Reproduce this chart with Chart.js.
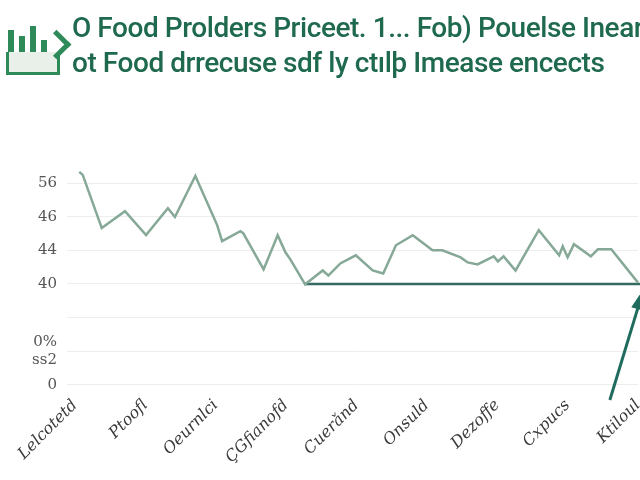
<!DOCTYPE html>
<html>
<head>
<meta charset="utf-8">
<script src="https://cdn.jsdelivr.net/npm/chart.js@4"></script>
<style>
  html, body { margin: 0; padding: 0; background: #fff; }
  #wrap { position: relative; width: 640px; height: 480px; overflow: hidden; }
  #head { position: absolute; left: 0; top: 8px; width: 640px; height: 76px; }
  #logo { position: absolute; left: 2px; top: 12px; width: 66px; height: 58px; }
  #logo .bar { position: absolute; bottom: 16px; width: 6px; background: #2f8a5a; }
  #logo .box { position: absolute; left: 4px; top: 32px; width: 48px; height: 20px; border: 3px solid #2f8a5a; border-top: none; background: #e9efe9; }
  #logo .chev { position: absolute; left: 44px; top: 14px; width: 16px; height: 16px; border-right: 5px solid #2f8a5a; border-bottom: 5px solid #2f8a5a; transform: rotate(-45deg); }
  #title { position: absolute; left: 72px; top: 2px; margin: 0; font-family: Roboto, sans-serif; font-weight: 500;
           font-size: 28px; line-height: 35px; color: #1f6a4e; letter-spacing: -0.45px; white-space: nowrap; }
  canvas { position: absolute; left: 0; top: 0; }
</style>
</head>
<body>
<div id="wrap">
  <canvas id="out" width="640" height="480"></canvas>
  <div id="head">
    <div id="logo">
      <div class="bar" style="left:6px;height:32px"></div>
      <div class="bar" style="left:17px;height:26px"></div>
      <div class="bar" style="left:28px;height:36px"></div>
      <div class="bar" style="left:39px;height:22px"></div>
      <div class="box"></div>
      <div class="chev"></div>
    </div>
    <h1 id="title">O Food Prolders Priceet. 1... Fob) Pouelse Inear<br>ot Food drrecuse sdf ly ctılþ Imease encects</h1>
  </div>
</div>
<script>
const xLabels = ["Lelcotetd", "Ptoofl", "Oeurnlci", "ÇGfianofd", "Cuerǎnd", "Onsuld", "Dezoffe", "Cxpucs", "Ktiloul"];
const yTickLabels = ["0", ["0%", "ss2"], "", "40", "44", "46", "56"];

const priceX = [0.06, 0.11, 0.38, 0.71, 1.01, 1.32, 1.42, 1.71, 2.02, 2.09, 2.35, 2.39, 2.68, 2.88, 2.99, 3.06,
  3.27, 3.52, 3.60, 3.77, 3.99, 4.23, 4.38, 4.56, 4.80, 5.08, 5.22, 5.48, 5.58, 5.72, 5.95, 6.01, 6.09,
  6.26, 6.59, 6.88, 6.93, 7.00, 7.09, 7.33, 7.43, 7.62, 8.00];
const priceY = [6.33, 6.24, 4.66, 5.16, 4.45, 5.25, 4.99, 6.21, 4.75, 4.27, 4.57, 4.51, 3.43, 4.45, 3.94, 3.73,
  2.99, 3.40, 3.25, 3.61, 3.85, 3.40, 3.31, 4.15, 4.45, 4.00, 4.00, 3.79, 3.64, 3.58, 3.82, 3.67, 3.82,
  3.40, 4.60, 3.85, 4.12, 3.79, 4.18, 3.82, 4.03, 4.03, 3.04];

const floorX = [3.27, 8.05];
const floorY = [3, 3];

const arrowX = [7.6, 8.08];
const arrowY = [-0.45, 2.85];

const toPoints = (xs, ys) => xs.map((x, i) => ({ x: x, y: ys[i] }));

// draws the pointer arrow from data coordinates
const arrowPlugin = {
  id: "arrow",
  afterDatasetsDraw(chart) {
    const { ctx, scales } = chart;
    const x0 = scales.x.getPixelForValue(arrowX[0]);
    const y0 = scales.y.getPixelForValue(arrowY[0]);
    const x1 = scales.x.getPixelForValue(arrowX[1]);
    const y1 = scales.y.getPixelForValue(arrowY[1]);
    const ang = Math.atan2(y1 - y0, x1 - x0);
    const head = 22;
    ctx.save();
    ctx.strokeStyle = "#1f6b5e";
    ctx.fillStyle = "#1f6b5e";
    ctx.lineWidth = 3;
    ctx.beginPath();
    ctx.moveTo(x0, y0);
    ctx.lineTo(x1 - Math.cos(ang) * head * 0.8, y1 - Math.sin(ang) * head * 0.8);
    ctx.stroke();
    ctx.beginPath();
    ctx.moveTo(x1, y1);
    ctx.lineTo(x1 - head * Math.cos(ang - 0.3), y1 - head * Math.sin(ang - 0.3));
    ctx.lineTo(x1 - head * Math.cos(ang + 0.3), y1 - head * Math.sin(ang + 0.3));
    ctx.closePath();
    ctx.fill();
    ctx.restore();
  }
};

new Chart(document.getElementById("out").getContext("2d"), {
  type: "line",
  data: {
    datasets: [
      {
        data: toPoints(priceX, priceY),
        borderColor: "#86a897",
        borderWidth: 2.5,
        pointRadius: 0,
        tension: 0,
        clip: false
      },
      {
        data: toPoints(floorX, floorY),
        borderColor: "#356a63",
        borderWidth: 2.5,
        pointRadius: 0,
        clip: false
      }
    ]
  },
  options: {
    responsive: false,
    animation: false,
    layout: { padding: { top: 183, left: 30, right: 2, bottom: 10 } },
    plugins: { legend: { display: false }, tooltip: { enabled: false } },
    scales: {
      x: {
        type: "linear",
        min: 0,
        max: 8,
        afterFit: (s) => { s.paddingRight = 0; },
        grid: { display: false },
        border: { display: false },
        ticks: {
          stepSize: 1,
          autoSkip: false,
          minRotation: 45,
          maxRotation: 45,
          color: "#3a3a3a",
          font: { family: "DejaVu Serif", size: 16, style: "italic" },
          callback: (v) => xLabels[v]
        }
      },
      y: {
        min: 0,
        max: 6,
        afterFit: (s) => { s.width = 45; },
        grid: { color: "#ededed" },
        border: { display: false },
        ticks: {
          stepSize: 1,
          autoSkip: false,
          padding: 10,
          color: "#555555",
          font: { family: "DejaVu Serif", size: 15 },
          callback: (v) => yTickLabels[v]
        }
      }
    }
  },
  plugins: [arrowPlugin]
});
</script>
</body>
</html>
